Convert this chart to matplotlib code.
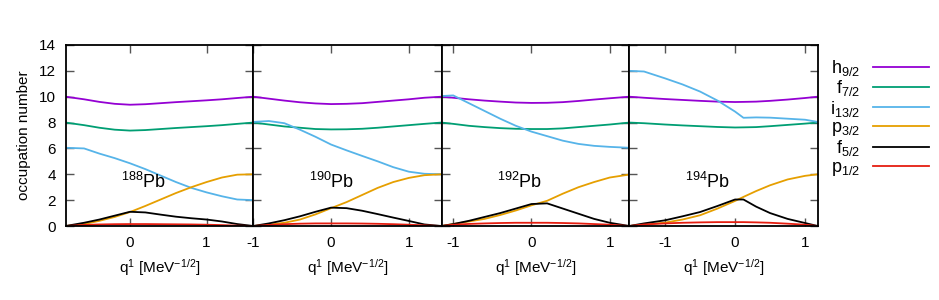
import matplotlib
matplotlib.use("Agg")
import matplotlib.pyplot as plt

plt.rcParams['font.family'] = ['Liberation Sans', 'DejaVu Sans']
plt.rcParams['mathtext.fontset'] = 'custom'
plt.rcParams['mathtext.rm'] = 'Liberation Sans'
plt.rcParams['mathtext.it'] = 'Liberation Sans:italic'
plt.rcParams['axes.unicode_minus'] = False

# orbitals and gnuplot-ish colours
orbitals = [r'h$_{9/2}$', r'f$_{7/2}$', r'i$_{13/2}$', r'p$_{3/2}$', r'f$_{5/2}$', r'p$_{1/2}$']
colors = ['#9400d3', '#009e73', '#56b4e9', '#e69f00', '#000000', '#e51e10']
nuclei = ['188', '190', '192', '194']

# panel x ranges
xlims = [(-0.84, 1.61), (-1.0, 1.42), (-1.15, 1.25), (-1.51, 1.18)]

# 188Pb
q188 = [-0.84, -0.6, -0.4, -0.2, 0.0, 0.2, 0.4, 0.6, 0.8, 1.0, 1.2, 1.4, 1.61]
h188 = [10.0, 9.8, 9.6, 9.45, 9.38, 9.42, 9.5, 9.58, 9.65, 9.72, 9.8, 9.9, 10.0]
f7_188 = [8.0, 7.8, 7.6, 7.45, 7.38, 7.42, 7.5, 7.58, 7.65, 7.72, 7.8, 7.9, 8.0]
i188 = [6.05, 6.0, 5.6, 5.25, 4.85, 4.4, 3.9, 3.4, 2.95, 2.6, 2.3, 2.05, 2.0]
p3_188 = [0.0, 0.15, 0.4, 0.7, 1.08, 1.55, 2.05, 2.55, 3.0, 3.4, 3.75, 3.97, 4.0]
f5_188 = [0.0, 0.25, 0.5, 0.8, 1.1, 1.05, 0.88, 0.72, 0.6, 0.5, 0.35, 0.15, 0.0]
p1_188 = [0.0, 0.08, 0.12, 0.14, 0.15, 0.15, 0.14, 0.13, 0.12, 0.1, 0.07, 0.03, 0.0]

# 190Pb
q190 = [-1.0, -0.8, -0.6, -0.4, -0.2, 0.0, 0.2, 0.4, 0.6, 0.8, 1.0, 1.2, 1.42]
h190 = [10.0, 9.85, 9.7, 9.57, 9.48, 9.43, 9.45, 9.5, 9.6, 9.7, 9.8, 9.92, 10.0]
f7_190 = [8.0, 7.85, 7.7, 7.6, 7.5, 7.47, 7.48, 7.52, 7.6, 7.7, 7.8, 7.9, 8.0]
i190 = [8.05, 8.12, 7.95, 7.45, 6.9, 6.3, 5.85, 5.42, 5.0, 4.55, 4.2, 4.04, 4.0]
p3_190 = [0.0, 0.1, 0.25, 0.5, 0.9, 1.38, 1.85, 2.4, 2.95, 3.4, 3.72, 3.93, 4.0]
f5_190 = [0.0, 0.2, 0.45, 0.75, 1.1, 1.42, 1.38, 1.18, 0.92, 0.65, 0.39, 0.12, 0.0]
p1_190 = [0.0, 0.08, 0.14, 0.18, 0.2, 0.2, 0.2, 0.19, 0.17, 0.14, 0.1, 0.05, 0.0]

# 192Pb
q192 = [-1.15, -1.0, -0.8, -0.6, -0.4, -0.2, 0.0, 0.2, 0.4, 0.6, 0.8, 1.0, 1.25]
h192 = [10.0, 9.92, 9.8, 9.7, 9.62, 9.55, 9.52, 9.53, 9.58, 9.67, 9.78, 9.88, 10.0]
f7_192 = [8.0, 7.9, 7.75, 7.65, 7.57, 7.52, 7.5, 7.5, 7.55, 7.65, 7.75, 7.85, 8.0]
i192 = [10.05, 10.1, 9.5, 8.9, 8.3, 7.75, 7.3, 6.95, 6.6, 6.35, 6.2, 6.12, 6.05]
p3_192 = [0.0, 0.15, 0.35, 0.55, 0.85, 1.2, 1.6, 1.95, 2.5, 3.0, 3.4, 3.75, 3.98]
f5_192 = [0.0, 0.15, 0.4, 0.7, 1.0, 1.35, 1.7, 1.75, 1.35, 0.95, 0.55, 0.25, 0.0]
p1_192 = [0.0, 0.1, 0.16, 0.2, 0.23, 0.25, 0.25, 0.25, 0.23, 0.2, 0.15, 0.1, 0.0]

# 194Pb
q194 = [-1.51, -1.3, -1.0, -0.75, -0.5, -0.25, 0.0, 0.12, 0.3, 0.5, 0.75, 1.0, 1.18]
h194 = [10.0, 9.92, 9.82, 9.75, 9.68, 9.62, 9.59, 9.6, 9.62, 9.68, 9.78, 9.9, 10.0]
f7_194 = [8.0, 7.95, 7.85, 7.78, 7.72, 7.66, 7.62, 7.63, 7.65, 7.72, 7.82, 7.92, 8.0]
i194 = [12.0, 11.95, 11.42, 10.95, 10.4, 9.7, 8.85, 8.37, 8.4, 8.38, 8.3, 8.22, 8.05]
p3_194 = [0.0, 0.1, 0.26, 0.5, 0.83, 1.35, 1.94, 2.25, 2.7, 3.15, 3.6, 3.88, 4.0]
f5_194 = [0.0, 0.2, 0.44, 0.75, 1.08, 1.55, 2.05, 2.05, 1.5, 1.0, 0.55, 0.23, 0.0]
p1_194 = [0.0, 0.12, 0.2, 0.25, 0.28, 0.3, 0.3, 0.3, 0.28, 0.25, 0.18, 0.1, 0.0]

qs = [q188, q190, q192, q194]
occ = [
    [h188, f7_188, i188, p3_188, f5_188, p1_188],
    [h190, f7_190, i190, p3_190, f5_190, p1_190],
    [h192, f7_192, i192, p3_192, f5_192, p1_192],
    [h194, f7_194, i194, p3_194, f5_194, p1_194],
]

W, H = 939, 300
fig = plt.figure(figsize=(W / 100, H / 100), dpi=100)
edges = [65.7, 253.3, 441.5, 629.3, 817.7]
top, bot = 45, 226

handles = []
for k in range(4):
    ax = fig.add_axes([edges[k] / W, 1 - bot / H, (edges[k + 1] - edges[k]) / W, (bot - top) / H])
    for j in range(6):
        ln, = ax.plot(qs[k], occ[k][j], color=colors[j], lw=1.3)
        if k == 0:
            handles.append(ln)
    ax.set_xticks([-1, 0, 1])
    ax.set_yticks(range(0, 15, 2))
    ax.set_xlim(*xlims[k])
    ax.set_ylim(0, 14)
    ax.tick_params(direction='in', length=6, width=1, color='#555555',
                   top=True, right=True, labelsize=11, pad=7)
    if k > 0:
        ax.set_yticklabels([])
    else:
        ax.set_ylabel('occupation number', fontsize=11, labelpad=6)
    ax.set_xlabel(r'q$^1$ [MeV$^{-1/2}$]', fontsize=11, labelpad=5)
    for s in ax.spines.values():
        s.set_linewidth(1.3)
    ax.text(0.295, 0.245, r'$^{%s}$Pb' % nuclei[k], transform=ax.transAxes,
            fontsize=13, va='center', ha='left')

fig.legend(handles, orbitals, markerfirst=False, frameon=False, loc='upper right',
           bbox_to_anchor=(938 / W, 1 - 49 / H), fontsize=13, handlelength=3.1,
           handletextpad=0.7, labelspacing=0.02, borderpad=0)

fig.savefig('out.png', dpi=100)
